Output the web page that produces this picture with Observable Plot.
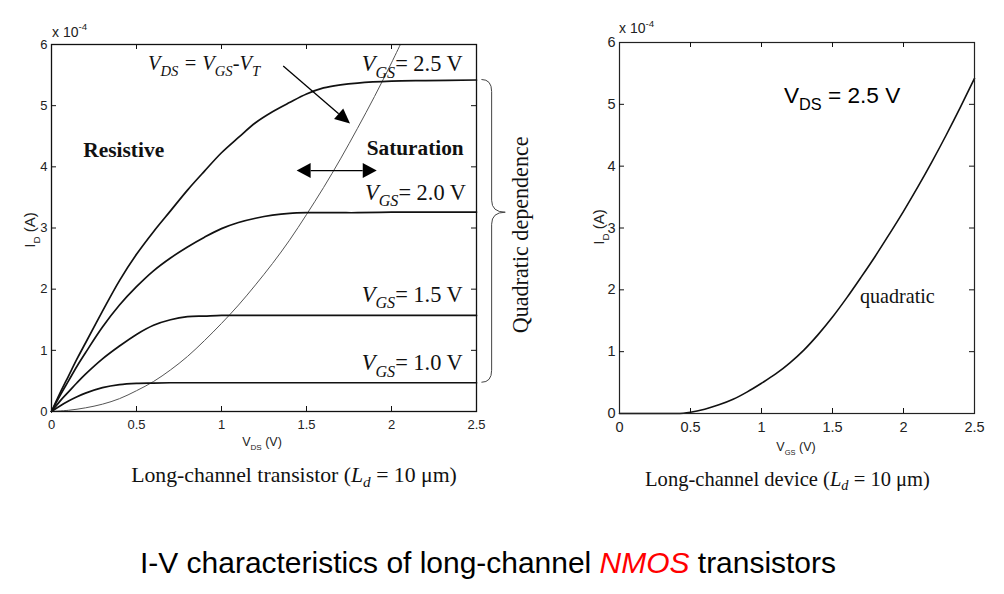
<!DOCTYPE html>
<html><head><meta charset="utf-8">
<script src="https://cdn.jsdelivr.net/npm/d3@7"></script>
<script src="https://cdn.jsdelivr.net/npm/@observablehq/plot@0.6"></script>
<style>
body{margin:0;background:#fff;}
#wrap{position:relative;width:1004px;height:594px;overflow:hidden;font-family:"Liberation Sans",Arial,sans-serif;background:#fff;}
#left{position:absolute;left:0;top:0;}
#right{position:absolute;left:560px;top:0;}
.cap{position:absolute;font-family:"Liberation Serif","Times New Roman",serif;font-size:21px;line-height:21px;color:#111;white-space:nowrap;}
#title{position:absolute;left:0;top:548px;font-size:30px;line-height:30px;color:#000;white-space:nowrap;transform-origin:0 0;}
</style></head>
<body>
<div id="wrap">
  <div id="left"></div>
  <div id="right"></div>
  <div class="cap" id="capL">Long-channel transistor (<i>L</i><sub style="font-size:70%;font-style:italic;vertical-align:-0.3em;line-height:0">d</sub> = 10 μm)</div>
  <div class="cap" id="capR">Long-channel device (<i>L</i><sub style="font-size:70%;font-style:italic;vertical-align:-0.3em;line-height:0">d</sub> = 10 μm)</div>
  <div id="title">I-V characteristics of long-channel <i style="color:#ff0000">NMOS</i> transistors</div>
</div>
<script>
// ---------- data ----------
const xTickValues = [0, 0.5, 1, 1.5, 2, 2.5];
const yTickValues = [0, 1, 2, 3, 4, 5, 6];
const innerX = [0.5, 1, 1.5, 2];
const innerY = [1, 2, 3, 4, 5];

// left: output characteristics (I_D in units of 1e-4 A vs V_DS)
const vds = [0,0.05,0.1,0.15,0.2,0.3,0.4,0.5,0.6,0.7,0.8,0.9,1.0,1.1,1.2,1.3,1.4,1.5,1.6,1.7,1.8,2.0,2.2,2.5];
const id25 = [0,0.30,0.58,0.86,1.12,1.64,2.14,2.57,2.94,3.28,3.62,3.93,4.23,4.48,4.72,4.90,5.05,5.19,5.29,5.34,5.37,5.40,5.41,5.42];
const id20 = [0,0.26,0.50,0.74,0.96,1.38,1.74,2.04,2.30,2.51,2.69,2.85,2.99,3.09,3.16,3.21,3.24,3.25,3.25,3.25,3.25,3.26,3.26,3.26];
const id15 = [0,0.17,0.32,0.47,0.61,0.86,1.07,1.26,1.41,1.50,1.55,1.56,1.57,1.57,1.57,1.57,1.57,1.57,1.57,1.57,1.57,1.57,1.57,1.57];
const id10 = [0,0.09,0.17,0.24,0.30,0.39,0.44,0.46,0.465,0.47,0.47,0.47,0.47,0.47,0.47,0.47,0.47,0.47,0.47,0.47,0.47,0.47,0.47,0.47];
const vgsNames = ["2.5", "2.0", "1.5", "1.0"];
const vgsSeries = [id25, id20, id15, id10];

// boundary VDS = VGS - VT
const vBound = [0,0.1,0.2,0.3,0.4,0.5,0.6,0.7,0.8,0.9,1.0,1.1,1.2,1.3,1.4,1.5,1.6,1.7,1.8,1.9,2.0,2.1];
const iBound = [0,0.02,0.06,0.12,0.21,0.34,0.49,0.68,0.90,1.16,1.44,1.74,2.07,2.42,2.80,3.22,3.66,4.13,4.63,5.15,5.70,6.28];

// right: transfer characteristic at VDS = 2.5 V
const vgs = [0,0.2,0.4,0.45,0.5,0.6,0.7,0.8,0.9,1.0,1.1,1.2,1.3,1.4,1.5,1.6,1.7,1.8,1.9,2.0,2.1,2.2,2.3,2.4,2.5];
const idq = [0,0,0,0.005,0.02,0.07,0.14,0.23,0.35,0.49,0.64,0.82,1.03,1.28,1.56,1.87,2.20,2.54,2.90,3.27,3.66,4.07,4.50,4.95,5.42];

// ---------- tables ----------
const famRows = vgsNames.flatMap((g, k) => vds.map((v, i) => ({vgs: g, v, i: vgsSeries[k][i]})));
const boundRows = vBound.map((v, i) => ({v, i: iBound[i]}));
const quadRows = vgs.map((v, i) => ({v, i: idq[i]}));

function frameTicks(W, H, tl) {
  return [
    Plot.tickX(innerX, {x: d => d, insetTop: H - tl, stroke: "#111", strokeWidth: 1}),
    Plot.tickX(innerX, {x: d => d, insetBottom: H - tl, stroke: "#111", strokeWidth: 1}),
    Plot.tickY(innerY, {y: d => d, insetRight: W - tl, stroke: "#111", strokeWidth: 1}),
    Plot.tickY(innerY, {y: d => d, insetLeft: W - tl, stroke: "#111", strokeWidth: 1})
  ];
}

// ---------- left plot ----------
const LW = 560, LH = 460, Lmt = 44, Lmb = 49, Lml = 51, Lmr = 84;
const left = Plot.plot({
  width: LW, height: LH, marginTop: Lmt, marginBottom: Lmb, marginLeft: Lml, marginRight: Lmr,
  x: {domain: [0, 2.5]}, y: {domain: [0, 6]},
  style: {fontFamily: "'Liberation Sans', Arial, sans-serif", fontSize: "13px", color: "#222", background: "transparent", overflow: "visible"},
  marks: [
    Plot.line(boundRows, {x: "v", y: "i", stroke: "#555", strokeWidth: 1, curve: "catmull-rom", clip: true}),
    Plot.line(famRows, {x: "v", y: "i", z: "vgs", stroke: "#111", strokeWidth: 1.7, curve: "catmull-rom"}),
    Plot.frame({stroke: "#111", strokeWidth: 1.3}),
    ...frameTicks(LW - Lml - Lmr, LH - Lmt - Lmb, 5),
    Plot.axisX({ticks: xTickValues, tickSize: 0, tickPadding: 8, tickFormat: d => String(d), label: null}),
    Plot.axisY({ticks: yTickValues, tickSize: 0, tickPadding: 4, tickFormat: d => String(d), label: null})
  ]
});
document.getElementById("left").appendChild(left);

// ---------- right plot ----------
const RW = 444, RH = 460, Rmt = 42, Rmb = 47, Rml = 59, Rmr = 30;
const right = Plot.plot({
  width: RW, height: RH, marginTop: Rmt, marginBottom: Rmb, marginLeft: Rml, marginRight: Rmr,
  x: {domain: [0, 2.5]}, y: {domain: [0, 6]},
  style: {fontFamily: "'Liberation Sans', Arial, sans-serif", fontSize: "14.5px", color: "#222", background: "transparent", overflow: "visible"},
  marks: [
    Plot.line(quadRows, {x: "v", y: "i", stroke: "#111", strokeWidth: 1.6, curve: "monotone-x"}),
    Plot.frame({stroke: "#222", strokeWidth: 1.2}),
    ...frameTicks(RW - Rml - Rmr, RH - Rmt - Rmb, 5),
    Plot.axisX({ticks: xTickValues, tickSize: 0, tickPadding: 8, tickFormat: d => String(d), label: null}),
    Plot.axisY({ticks: yTickValues, tickSize: 0, tickPadding: 4, tickFormat: d => String(d), label: null})
  ]
});
document.getElementById("right").appendChild(right);

// ---------- annotation helpers ----------
function rich(parent, parts, attrs) {
  const text = parent.append("text").attr("text-anchor", "start");
  for (const [k, v] of Object.entries(attrs)) text.attr(k, v);
  let shift = 0;
  for (const p of parts) {
    const ts = text.append("tspan").text(p.t);
    const target = p.sub ? (p.dsub ?? 0.3) : p.sup ? -0.45 : 0;
    const scale = (p.sub || p.sup) ? (p.scale || 0.72) : 1;
    if (scale !== 1) ts.attr("font-size", (scale * 100) + "%");
    const d = target - shift;
    if (d !== 0) ts.attr("dy", (d / scale).toFixed(3) + "em");
    shift = target;
    if (p.it === true) ts.attr("font-style", "italic");
    if (p.it === false) ts.attr("font-style", "normal");
  }
  return text;
}
function fit(t, target) {
  const w = t.node().getBBox().width;
  const fs = parseFloat(t.attr("font-size"));
  t.attr("font-size", (fs * target / w).toFixed(2));
}
function arrowHead(g, x1, y1, x2, y2, len, wid) {
  const dx = x2 - x1, dy = y2 - y1, L = Math.hypot(dx, dy), ux = dx / L, uy = dy / L;
  const bx = x2 - ux * len, by = y2 - uy * len;
  g.append("path").attr("d", `M${x2},${y2}L${bx - uy * wid / 2},${by + ux * wid / 2}L${bx + uy * wid / 2},${by - ux * wid / 2}Z`).attr("fill", "#000");
  return [bx, by];
}

const serif = "'Liberation Serif','Times New Roman',serif";
const sans = "'Liberation Sans',Arial,sans-serif";

// ----- left annotations -----
{
  const svg = d3.select(left);
  const sx = left.scale("x").apply, sy = left.scale("y").apply;
  const g = svg.append("g").attr("text-anchor", "start");
  const t1 = rich(g, [{t: "V", it: true}, {t: "DS", sub: 1}, {t: " = V"}, {t: "GS", sub: 1}, {t: "-V"}, {t: "T", sub: 1}],
    {x: sx(0.571), y: sy(5.57), "font-family": serif, "font-style": "italic", "font-size": 20, fill: "#111"});
  fit(t1, 113);
  {
    const x1 = sx(1.366), y1 = sy(5.639), x2 = sx(1.759), y2 = sy(4.70);
    const [bx, by] = arrowHead(g, x1, y1, x2, y2, 15, 14);
    g.append("line").attr("x1", x1).attr("y1", y1).attr("x2", bx).attr("y2", by).attr("stroke", "#000").attr("stroke-width", 1.3);
  }
  {
    const xa = sx(1.445), xb = sx(1.916), y = sy(3.93);
    const [b1] = arrowHead(g, xb, y, xa, y, 14, 15);
    const [b2] = arrowHead(g, xa, y, xb, y, 14, 15);
    g.append("line").attr("x1", b1).attr("y1", y).attr("x2", b2).attr("y2", y).attr("stroke", "#000").attr("stroke-width", 1.3);
  }
  const tr = g.append("text").attr("text-anchor", "start").attr("x", sx(0.19)).attr("y", sy(4.16)).attr("font-family", serif).attr("font-weight", "bold").attr("font-size", 20).attr("fill", "#111").text("Resistive");
  fit(tr, 81);
  const ts = g.append("text").attr("text-anchor", "start").attr("x", sx(1.857)).attr("y", sy(4.19)).attr("font-family", serif).attr("font-weight", "bold").attr("font-size", 20).attr("fill", "#111").text("Saturation");
  fit(ts, 97);
  const labs = [["2.5", 1.828, 5.557], ["2.0", 1.847, 3.454], ["1.5", 1.828, 1.787], ["1.0", 1.828, 0.667]];
  for (const [s, vx, iy] of labs) {
    const t = rich(g, [{t: "V", it: true}, {t: "GS", sub: 1, it: true}, {t: "= " + s + " V"}],
      {x: sx(vx), y: sy(iy), "font-family": serif, "font-size": 21, fill: "#111"});
    fit(t, 101);
  }
  {
    const xa = sx(2.532), xb = sx(2.592), xc = sx(2.672);
    const yt = sy(5.42), yb = sy(0.47), ym = sy(3.25);
    const r = 12;
    const d = `M${xa},${yt} Q${xb},${yt} ${xb},${yt + r} L${xb},${ym - r} Q${xb},${ym} ${xc},${ym} Q${xb},${ym} ${xb},${ym + r} L${xb},${yb - r} Q${xb},${yb} ${xa},${yb}`;
    g.append("path").attr("d", d).attr("fill", "none").attr("stroke", "#444").attr("stroke-width", 1);
  }
  const tq = g.append("text").attr("transform", `translate(${sx(2.765) + 7},${sy(2.88)}) rotate(-90)`).attr("text-anchor", "middle")
    .attr("font-family", serif).attr("font-size", 20).attr("fill", "#111").text("Quadratic dependence");
  fit(tq, 197);
  rich(g, [{t: "V"}, {t: "DS", sub: 1, scale: 0.65}, {t: " (V)"}],
    {x: 262, y: 446, "text-anchor": "middle", "font-family": sans, "font-size": 12.5, fill: "#222"});
  rich(g, [{t: "I"}, {t: "D", sub: 1, scale: 0.65}, {t: " (A)"}],
    {transform: "translate(35,230) rotate(-90)", "text-anchor": "middle", "font-family": sans, "font-size": 15, fill: "#222"});
  rich(g, [{t: "x 10"}, {t: "-4", sup: 1, scale: 0.7}], {x: 52, y: 36.7, "font-family": sans, "font-size": 14, fill: "#222"});
}

// ----- right annotations -----
{
  const svg = d3.select(right);
  const sx = right.scale("x").apply, sy = right.scale("y").apply;
  const g = svg.append("g").attr("text-anchor", "start");
  const t = rich(g, [{t: "V"}, {t: "DS", sub: 1, scale: 0.72}, {t: " = 2.5 V"}],
    {x: sx(1.162), y: sy(5.006), "font-family": sans, "font-size": 23, fill: "#000"});
  fit(t, 117);
  const q = g.append("text").attr("text-anchor", "start").attr("x", sx(1.697)).attr("y", sy(1.775)).attr("font-family", serif).attr("font-size", 20).attr("fill", "#111").text("quadratic");
  fit(q, 75);
  rich(g, [{t: "V"}, {t: "GS", sub: 1, scale: 0.6}, {t: " (V)"}],
    {x: 236, y: 451, "text-anchor": "middle", "font-family": sans, "font-size": 12.5, fill: "#222"});
  rich(g, [{t: "I"}, {t: "D", sub: 1, scale: 0.65}, {t: " (A)"}],
    {transform: "translate(44,227) rotate(-90)", "text-anchor": "middle", "font-family": sans, "font-size": 15, fill: "#222"});
  rich(g, [{t: "x 10"}, {t: "-4", sup: 1, scale: 0.7}], {x: 59, y: 33.3, "font-family": sans, "font-size": 14, fill: "#222"});
}

// ----- captions & title -----
function fitDiv(id, targetW, cx, baseline) {
  const el = document.getElementById(id);
  let fs = parseFloat(getComputedStyle(el).fontSize);
  const w = el.getBoundingClientRect().width;
  fs = fs * targetW / w;
  el.style.fontSize = fs + "px";
  el.style.lineHeight = fs + "px";
  const w2 = el.getBoundingClientRect().width;
  el.style.left = (cx - w2 / 2) + "px";
  el.style.top = (baseline - 0.8375 * fs) + "px";
}
fitDiv("capL", 326, 294, 483);
fitDiv("capR", 285, 787.5, 486.5);
{
  const el = document.getElementById("title");
  const w = el.getBoundingClientRect().width;
  const k = 696 / w;
  el.style.transform = `scaleX(${k})`;
  el.style.left = "140px";
}
</script>
</body></html>
